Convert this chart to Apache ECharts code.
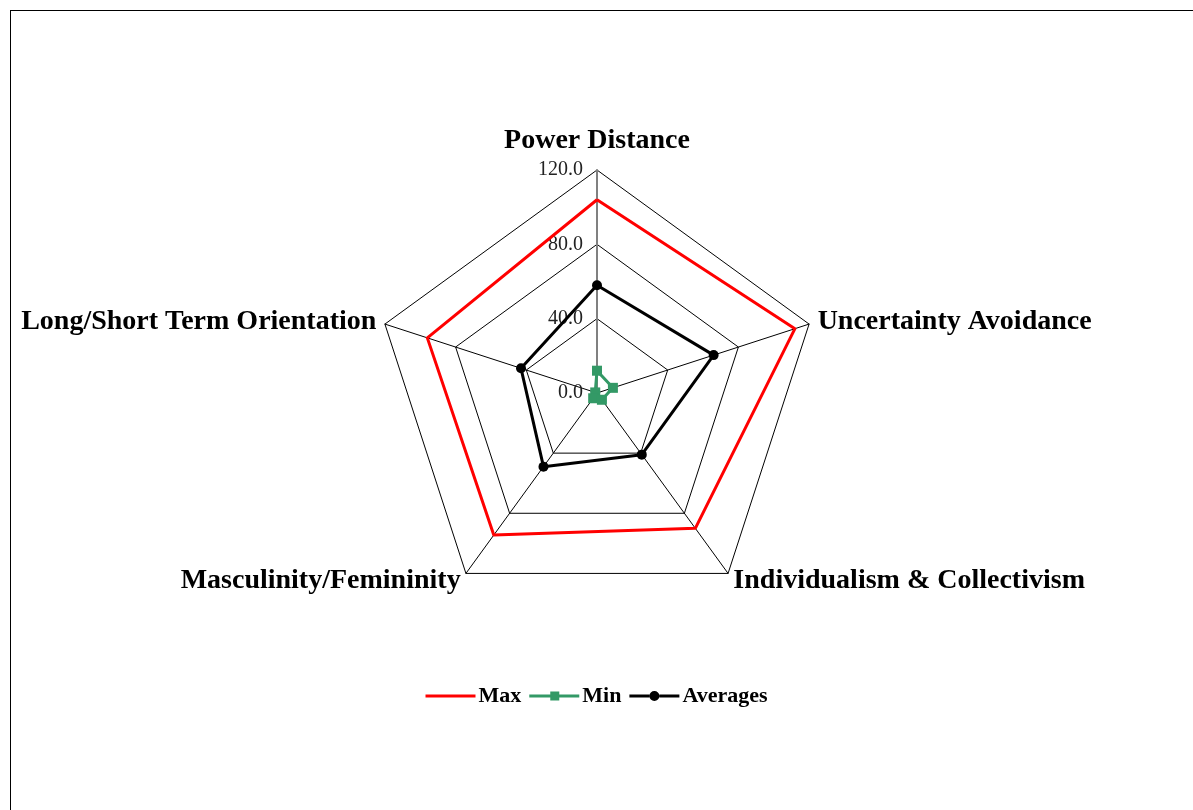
<!DOCTYPE html>
<html>
<head>
<meta charset="utf-8">
<script src="https://cdn.jsdelivr.net/npm/echarts@6/dist/echarts.min.js"></script>
<style>
  html, body { margin: 0; padding: 0; background: #fff; }
  #frame { position: absolute; left: 10px; top: 10px; width: 1200px; height: 820px; border: 1px solid #000; }
  #main { position: absolute; left: 0; top: 0; width: 1193px; height: 810px; }
</style>
</head>
<body>
<div id="frame"></div>
<div id="main"></div>
<script>
  // dimensions in radar order (counter-clockwise from top, so UA ends up on the right)
  var dimensions = ['Power Distance', 'Long/Short Term Orientation', 'Masculinity/Femininity', 'Individualism & Collectivism', 'Uncertainty Avoidance'];
  var maxValues = [104, 96, 94.5, 90, 112];
  var minValues = [12, 1, 3.5, 4.5, 9];
  var avgValues = [58, 43, 49, 41, 66];
  var axisMax = 120;

  var chart = echarts.init(document.getElementById('main'));
  var serif = 'Liberation Serif, Times New Roman, serif';

  // legend icons: plain line, line with square, line with dot
  var iconLine = 'path://M0,0h50v3h-50z';
  var iconSquare = 'path://M0,3h21v3h-21z M30,3h20v3h-20z M21,0h9v9h-9z';
  var iconDot = 'path://M0,3.5h20v3h-20z M30,3.5h20v3h-20z M20,5a5,5 0 1,1 10,0a5,5 0 1,1 -10,0z';

  chart.setOption({
    animation: false,
    textStyle: { fontFamily: serif },
    legend: {
      top: 680,
      left: 'center',
      itemWidth: 50,
      itemHeight: 12,
      itemGap: 8,
      symbolKeepAspect: true,
      textStyle: { fontFamily: serif, fontWeight: 'bold', fontSize: 22, color: '#000', padding: [0, 0, 0, -2] },
      data: [
        { name: 'Max', icon: iconLine },
        { name: 'Min', icon: iconSquare },
        { name: 'Averages', icon: iconDot }
      ]
    },
    radar: {
      center: [597, 393],
      radius: 223,
      startAngle: 90,
      splitNumber: 3,
      shape: 'polygon',
      nameGap: 9,
      axisName: { color: '#000', fontFamily: serif, fontWeight: 'bold', fontSize: 28, padding: [0, 0, 6, 0] },
      axisLine: { lineStyle: { color: '#000', width: 1 } },
      splitLine: { lineStyle: { color: '#000', width: 1 } },
      splitArea: { show: false },
      axisLabel: { show: false },
      indicator: dimensions.map(function (d, i) {
        var ind = { name: d, min: 0, max: axisMax };
        if (i === 0) {
          ind.axisLabel = {
            show: true, color: '#222', fontFamily: serif, fontSize: 20, margin: 14,
            formatter: function (v) { return v.toFixed(1); }
          };
          ind.axisLine = { lineStyle: { color: '#808080', width: 2 } };
        }
        return ind;
      })
    },
    series: [{
      type: 'radar',
      data: [
        { name: 'Max', value: maxValues, symbol: 'none',
          lineStyle: { color: '#ff0000', width: 3 }, itemStyle: { color: '#ff0000' } },
        { name: 'Min', value: minValues, symbol: 'rect', symbolSize: 10,
          lineStyle: { color: '#339966', width: 3 }, itemStyle: { color: '#339966' } },
        { name: 'Averages', value: avgValues, symbol: 'circle', symbolSize: 10,
          lineStyle: { color: '#000', width: 3 }, itemStyle: { color: '#000' } }
      ]
    }]
  });
</script>
</body>
</html>
